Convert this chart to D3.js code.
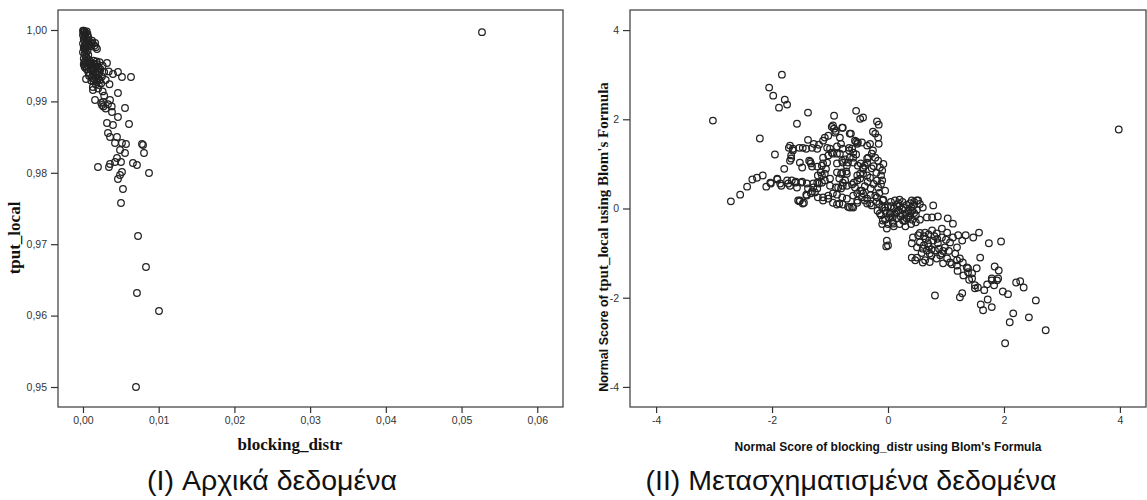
<!DOCTYPE html>
<html>
<head>
<meta charset="utf-8">
<script src="https://cdn.jsdelivr.net/npm/d3@7"></script>
<style>
  body { margin: 0; background: #fff; }
  svg { display: block; }
</style>
</head>
<body>
<svg id="chart"></svg>
<script>
// raw data: blocking_distr vs tput_local
const rawPoints = [
  [0.0000, 0.9999], [0.0001, 0.9996], [0.0000, 0.9993], [0.0002, 0.9990], [0.0001, 0.9987],
  [0.0003, 0.9984], [0.0000, 0.9981], [0.0002, 0.9978], [0.0001, 0.9975], [0.0003, 0.9972],
  [0.0000, 0.9969], [0.0002, 0.9966], [0.0004, 0.9963], [0.0001, 0.9960], [0.0003, 0.9957],
  [0.0002, 0.9998], [0.0003, 0.9994], [0.0004, 0.9989], [0.0004, 0.9980], [0.0005, 0.9976],
  [0.0001, 0.9999], [0.0002, 0.9992],
  [0.0005, 0.9998], [0.0006, 0.9994], [0.0004, 0.9996], [0.0007, 0.9990], [0.0006, 0.9985],
  [0.0005, 0.9982], [0.0007, 0.9978], [0.0003, 0.9975], [0.0006, 0.9971], [0.0004, 0.9968],
  [0.0007, 0.9965], [0.0005, 0.9961], [0.0008, 0.9958], [0.0002, 0.9955], [0.0006, 0.9956],
  [0.0009, 0.9952], [0.0001, 0.9952], [0.0002, 0.9949], [0.0012, 0.9985], [0.0016, 0.9982],
  [0.0017, 0.9976],
  [0.0010, 0.9983], [0.0013, 0.9981], [0.0015, 0.9978], [0.0011, 0.9977], [0.0008, 0.9980],
  [0.0004, 0.9953], [0.0006, 0.9950], [0.0005, 0.9945], [0.0007, 0.9941], [0.0003, 0.9947],
  [0.0008, 0.9936],
  [0.0010, 0.9955], [0.0014, 0.9957], [0.0018, 0.9956], [0.0022, 0.9955], [0.0012, 0.9950],
  [0.0016, 0.9951], [0.0020, 0.9949], [0.0011, 0.9944], [0.0015, 0.9946], [0.0019, 0.9943],
  [0.0023, 0.9945], [0.0013, 0.9939], [0.0017, 0.9940], [0.0021, 0.9938], [0.0012, 0.9933],
  [0.0016, 0.9934], [0.0020, 0.9932], [0.0014, 0.9928], [0.0018, 0.9927], [0.0022, 0.9930],
  [0.0026, 0.9950], [0.0028, 0.9941], [0.0025, 0.9935], [0.0009, 0.9938], [0.0024, 0.9925],
  [0.0011, 0.9953], [0.0015, 0.9953], [0.0019, 0.9952], [0.0013, 0.9947], [0.0017, 0.9948],
  [0.0021, 0.9946], [0.0014, 0.9942], [0.0018, 0.9937], [0.0022, 0.9941], [0.0015, 0.9931],
  [0.0019, 0.9929], [0.0017, 0.9924], [0.0011, 0.9929], [0.0021, 0.9923],
  [0.0013, 0.9920], [0.0020, 0.9918], [0.0026, 0.9914], [0.0030, 0.9930], [0.0034, 0.9942],
  [0.0035, 0.9924], [0.0028, 0.9908], [0.0024, 0.9898], [0.0038, 0.9893], [0.0033, 0.9896],
  [0.0027, 0.9893], [0.0030, 0.9890],
  [0.00185, 0.99734], [0.00053, 0.99818], [0.00317, 0.99538], [0.00462, 0.99412], [0.00515, 0.99342],
  [0.00634, 0.99342], [0.00396, 0.99384], [0.0004, 0.99314], [0.00132, 0.9916], [0.00159, 0.9902],
  [0.00264, 0.98992], [0.00357, 0.9902], [0.00251, 0.9895], [0.00462, 0.99118], [0.00555, 0.98908],
  [0.00383, 0.98852], [0.00462, 0.98782], [0.00317, 0.98698], [0.00396, 0.98669], [0.00608, 0.98683],
  [0.0033, 0.98557], [0.00357, 0.98501], [0.00449, 0.98501], [0.00423, 0.98417], [0.00515, 0.98417],
  [0.00568, 0.98403], [0.00779, 0.98403], [0.00793, 0.98389], [0.00806, 0.98277], [0.00489, 0.98319],
  [0.00555, 0.98277], [0.00449, 0.98207], [0.00423, 0.98151], [0.00502, 0.98151], [0.00198, 0.98081],
  [0.00343, 0.98081], [0.00357, 0.98123], [0.0066, 0.98137], [0.00713, 0.98109], [0.00872, 0.97997],
  [0.00515, 0.98011], [0.00489, 0.97969], [0.00462, 0.97913], [0.00528, 0.97773], [0.00502, 0.97577],
  [0.00727, 0.97115], [0.00832, 0.96681], [0.00713, 0.96317], [0.01004, 0.96064], [0.0070, 0.9500],
  [0.0527, 0.9997]
];

// normal scores (Blom) of the same two variables
const blomPoints = [
  [-3.02, 1.97], [-1.83, 3.00], [-2.05, 2.71], [-1.98, 2.53], [-1.78, 2.44], [-1.74, 2.33],
  [-1.88, 2.26], [-1.38, 2.15], [-1.57, 1.90], [-2.21, 1.57], [-1.95, 1.21], [-1.79, 0.89],
  [-2.71, 0.16], [-2.55, 0.31], [-2.43, 0.49], [-2.34, 0.65], [-2.26, 0.69], [-2.16, 0.74],
  [-2.10, 0.49], [-2.02, 0.56], [-1.84, 0.51], [-1.91, 0.65], [-1.72, 0.56], [-1.66, 0.63],
  [-1.60, 0.58], [-1.50, 0.58], [-1.40, 0.56], [-1.55, 0.18], [-1.45, 0.13], [-1.71, 1.36],
  [-1.69, 1.07], [-1.67, 1.19], [-1.53, 1.36], [-1.64, 1.34], [-1.52, 1.03], [-1.48, 0.92],
  [-1.34, 1.05], [-1.31, 0.94], [-1.38, 1.54], [-1.28, 1.45], [-1.19, 1.43], [-1.22, 1.34],
  [-1.41, 1.34], [-1.12, 1.52], [-1.09, 1.59], [-1.03, 1.63], [-0.97, 1.83], [-0.93, 1.79],
  [-0.91, 1.70], [-0.79, 1.81], [-0.93, 2.08], [-0.83, 1.59], [-0.81, 1.45], [-0.64, 1.68],
  [-0.55, 2.19], [-0.48, 2.01], [-0.43, 2.04], [-0.55, 1.50], [-0.53, 1.45], [-0.62, 1.34],
  [-0.60, 1.25], [-0.55, 1.21], [-0.45, 1.48], [-0.36, 1.41], [-1.05, 1.36], [-1.03, 1.19],
  [-0.97, 1.25], [-0.88, 1.23], [-0.79, 1.07], [-0.74, 1.10], [-0.69, 1.03], [-0.60, 1.14],
  [-1.22, 0.94], [-1.12, 1.01], [-1.16, 0.81], [-1.21, 0.74], [-1.09, 0.78], [-1.14, 0.58],
  [-1.22, 0.58], [-0.88, 0.81], [-0.81, 0.78], [-0.72, 0.83], [-0.84, 0.67], [-0.78, 0.58],
  [-1.00, 0.51], [-0.90, 0.47], [-0.81, 0.45], [-0.71, 0.51], [-0.62, 0.54], [-0.59, 0.58],
  [-0.53, 0.63], [-0.48, 0.78], [-0.43, 0.89], [-0.40, 0.96], [-0.47, 1.01], [-0.36, 1.12],
  [-1.26, 0.36], [-1.33, 0.34], [-1.41, 0.31], [-1.21, 0.25], [-1.12, 0.25], [-1.03, 0.29],
  [-0.95, 0.34], [-0.88, 0.31], [-0.79, 0.25], [-0.71, 0.22], [-0.60, 0.29], [-0.53, 0.34],
  [-0.45, 0.25], [-0.40, 0.18], [-0.95, 0.13], [-0.88, 0.09], [-0.78, 0.09], [-0.66, 0.02],
  [-0.60, 0.02], [-0.53, 0.13], [-1.12, 0.18], [-1.29, 0.47], [-1.22, 0.45],
  [-0.19, 1.95], [-0.16, 1.88], [-0.95, 1.86], [-0.90, 1.74], [-0.78, 1.81], [-0.26, 1.72],
  [-0.22, 1.68], [-0.17, 1.59], [-0.16, 1.45], [-0.31, 1.45], [-0.26, 1.30], [-0.22, 1.14],
  [-0.17, 1.07], [-0.14, 0.92], [-0.12, 0.74], [-0.19, 0.63], [-0.10, 0.63], [-0.17, 0.47],
  [-0.22, 0.29], [-0.31, 0.11], [-0.19, 0.25], [-0.09, 0.18], [-0.05, 0.02], [-0.66, 1.68],
  [-0.57, 1.52], [-0.52, 1.48], [-0.67, 1.36], [-0.67, 1.30], [-0.66, 1.14], [-0.60, 1.03],
  [-0.52, 0.96], [-0.43, 0.92], [-0.36, 1.03], [-0.34, 1.14], [-0.28, 1.23], [-0.43, 0.78],
  [-0.36, 0.74], [-0.31, 0.69], [-0.48, 0.67], [-0.53, 0.74], [-0.57, 0.47], [-0.48, 0.40],
  [-0.43, 0.34], [-0.36, 0.22], [-0.53, 0.18], [-0.62, 0.04], [-0.69, 0.04], [-0.84, 0.11],
  [-1.03, 0.22], [-1.40, 0.29], [-1.52, 0.18], [-1.47, 0.11], [-0.78, 0.51], [-0.86, 0.47],
  [-0.74, 0.63], [-0.71, 0.78], [-0.79, 0.81], [-1.00, 0.67], [-1.09, 0.63], [-1.14, 0.74],
  [-1.07, 0.89], [-1.14, 0.96], [-1.05, 1.03], [-1.12, 1.14], [-0.78, 1.03], [-0.71, 0.96],
  [-0.88, 1.01], [-0.95, 1.23], [-0.83, 1.23], [-0.78, 1.34], [-0.88, 1.39], [-1.00, 1.34],
  [-1.31, 1.36], [-1.47, 1.36], [-1.64, 1.30], [-1.69, 1.41], [-1.67, 1.12], [-1.36, 1.07],
  [-1.33, 1.01], [-1.91, 0.67], [-2.03, 0.58], [-1.86, 0.56], [-1.74, 0.63], [-1.59, 0.60],
  [-1.48, 0.60], [-1.29, 0.56], [-1.19, 0.56], [-1.31, 0.38], [-1.38, 0.45], [-1.57, 0.47],
  [-1.69, 0.51], [-1.53, 0.16],
  [-0.30, 0.45], [-0.25, 0.55], [-0.35, 0.60], [-0.20, 0.80], [-0.28, 0.90], [-0.40, 0.50],
  [-0.15, 0.35], [-0.45, 0.40], [-0.05, 0.40], [-0.12, 0.55], [-0.30, 0.30], [-0.25, 0.95],
  [-0.08, 1.00], [-0.10, 0.85],
  [-0.15, 0.10], [-0.10, 0.02], [-0.05, -0.05], [0.00, 0.05], [0.05, -0.10], [0.10, 0.00],
  [0.15, -0.08], [0.20, 0.05], [0.25, -0.02], [0.30, -0.12], [0.35, -0.05], [0.40, 0.02],
  [0.45, -0.10], [0.50, -0.03], [0.55, 0.10], [-0.12, -0.15], [-0.05, -0.25], [0.02, -0.20],
  [0.08, -0.30], [0.15, -0.22], [0.22, -0.18], [0.28, -0.28], [0.35, -0.20], [0.42, -0.25],
  [0.48, -0.15], [0.05, 0.15], [0.12, 0.18], [0.18, 0.12], [0.25, 0.15], [0.32, 0.08],
  [0.38, 0.12], [0.45, 0.08], [-0.08, 0.20], [0.00, -0.35], [0.10, -0.40], [-0.02, -0.45],
  [0.20, -0.35], [0.30, -0.40], [0.40, -0.35], [0.55, -0.25], [0.60, 0.02], [-0.18, -0.05],
  [-0.20, 0.15], [0.03, -0.12], [0.18, -0.05], [0.27, 0.02], [-0.10, -0.35], [0.12, -0.12],
  [0.38, -0.10], [0.50, 0.18], [0.45, 0.15],
  [0.05, 0.05], [0.15, 0.08], [0.22, -0.10], [-0.02, -0.10], [0.32, -0.22], [0.08, -0.20],
  [0.42, -0.05], [0.20, 0.20],
  [0.78, 0.07], [0.52, 0.18], [0.41, 0.18], [0.48, -0.31], [0.67, -0.20], [0.76, -0.20],
  [0.86, -0.18], [1.03, -0.22], [1.12, -0.34], [0.93, -0.45], [-0.02, -0.72], [0.00, -0.83],
  [-0.03, -0.85], [1.21, -0.60], [1.34, -0.60], [1.47, -0.65], [1.57, -0.54], [1.74, -0.78],
  [1.95, -0.74], [1.59, -1.10], [1.84, -1.30], [1.91, -1.39], [0.41, -1.10], [0.60, -1.21],
  [1.19, -1.16], [1.38, -1.34], [1.53, -1.34], [1.79, -1.57], [1.90, -1.57], [0.81, -1.95],
  [1.24, -1.99], [1.28, -1.90], [1.50, -1.79], [1.55, -1.77], [1.66, -1.83], [1.71, -1.70],
  [1.79, -1.61], [1.88, -1.61], [1.83, -1.72], [1.98, -1.86], [2.07, -1.92], [2.21, -1.66],
  [2.28, -1.63], [2.34, -1.77], [2.55, -2.06], [1.60, -2.15], [1.64, -2.28], [1.72, -2.04],
  [1.79, -2.21], [2.16, -2.35], [2.10, -2.55], [2.43, -2.44], [2.72, -2.73], [2.02, -3.02],
  [1.45, -1.57], [1.50, -1.72], [1.38, -1.43], [1.36, -1.32], [1.29, -1.21], [1.19, -1.28],
  [1.07, -1.21], [1.16, -1.01], [1.24, -1.12], [1.02, -1.12], [0.95, -1.23], [0.93, -1.01],
  [0.84, -1.12], [0.81, -0.94], [0.72, -1.01], [0.67, -0.94], [0.64, -1.16], [0.50, -1.10],
  [0.47, -1.16], [0.50, -0.87], [0.55, -0.76], [0.41, -0.78], [0.43, -0.65], [0.52, -0.60],
  [0.64, -0.54], [0.76, -0.49], [0.84, -0.56], [0.93, -0.65], [1.02, -0.54], [1.07, -0.76],
  [0.98, -0.87], [0.86, -0.78], [0.78, -0.72], [0.69, -0.78], [1.19, -0.87], [1.12, -0.65],
  [1.28, -0.72], [-0.14, -0.11], [-0.09, -0.27], [0.09, -0.34], [0.26, -0.27], [0.38, -0.16],
  [-0.36, 0.11], [-0.28, 0.07],
  [0.60, -0.90], [0.70, -0.85], [0.75, -1.05], [0.90, -1.05], [0.95, -0.95], [1.05, -0.95],
  [0.85, -0.68], [0.65, -0.68], [0.58, -1.00], [0.72, -1.20], [1.10, -1.25], [1.30, -1.50],
  [1.40, -1.60], [1.20, -1.40], [1.45, -1.45],
  [0.55, -0.55], [0.62, -0.62], [0.70, -0.58], [0.80, -0.62], [0.62, -0.82], [0.75, -0.92],
  [0.88, -0.90], [1.00, -0.70],
  [3.98, 1.77]
];

const rawXTicks = [0, 0.01, 0.02, 0.03, 0.04, 0.05, 0.06];
const rawYTicks = [0.95, 0.96, 0.97, 0.98, 0.99, 1.0];
const blomTicks = [-4, -2, 0, 2, 4];

const captions = ["(I) Αρχικά δεδομένα", "(II) Μετασχηματισμένα δεδομένα"];

const SANS = "'Liberation Sans', Arial, sans-serif";
const SERIF = "'Liberation Serif', 'Times New Roman', serif";

class ScatterPlot {
  constructor(_config, _data) {
    this.config = {
      svg: _config.svg,
      left: _config.left,
      top: _config.top,
      width: _config.width,
      height: _config.height,
      xDomain: _config.xDomain,
      yDomain: _config.yDomain,
      xTicks: _config.xTicks,
      yTicks: _config.yTicks,
      format: _config.format,
    };
    this.data = _data;
    this.initVis();
  }

  initVis() {
    let vis = this;
    let c = vis.config;

    vis.xScale = d3.scaleLinear().domain(c.xDomain).range([0, c.width]);
    vis.yScale = d3.scaleLinear().domain(c.yDomain).range([c.height, 0]);

    vis.chartArea = c.svg
      .append("g")
      .attr("transform", `translate(${c.left},${c.top})`);

    // plot frame
    vis.chartArea
      .append("rect")
      .attr("width", c.width)
      .attr("height", c.height)
      .attr("fill", "none")
      .attr("stroke", "#3a3a3a")
      .attr("stroke-width", 1.2);

    vis.xAxis = d3
      .axisBottom(vis.xScale)
      .tickValues(c.xTicks)
      .tickFormat(c.format)
      .tickSizeInner(6)
      .tickSizeOuter(0)
      .tickPadding(4);
    vis.yAxis = d3
      .axisLeft(vis.yScale)
      .tickValues(c.yTicks)
      .tickFormat(c.format)
      .tickSizeInner(7)
      .tickSizeOuter(0)
      .tickPadding(4);

    vis.xAxisGroup = vis.chartArea
      .append("g")
      .attr("transform", `translate(0,${c.height})`)
      .call(vis.xAxis);
    vis.yAxisGroup = vis.chartArea.append("g").call(vis.yAxis);

    [vis.xAxisGroup, vis.yAxisGroup].forEach((g) => {
      g.select(".domain").remove();
      g.selectAll(".tick line").attr("stroke", "#333").attr("stroke-width", 1.2);
      g.selectAll(".tick text")
        .attr("fill", "#333")
        .style("font-family", SANS)
        .style("font-size", "10.5px");
    });

    vis.renderVis();
  }

  renderVis() {
    let vis = this;
    vis.chartArea
      .selectAll(".point")
      .data(vis.data)
      .join("circle")
      .attr("class", "point")
      .attr("r", 3.3)
      .attr("cx", (d) => vis.xScale(d[0]))
      .attr("cy", (d) => vis.yScale(d[1]))
      .attr("fill", "none")
      .attr("stroke", "#222")
      .attr("stroke-width", 1.25);
  }
}

const svg = d3.select("#chart").attr("width", 1147).attr("height", 500);
svg.append("rect").attr("width", 1147).attr("height", 500).attr("fill", "#fff");

const commaFormat = (d) => d3.format(".2f")(d).replace(".", ",");
const intFormat = (d) => d3.format("d")(d).replace("−", "-");

const rawPlot = new ScatterPlot(
  {
    svg: svg,
    left: 58,
    top: 10,
    width: 505,
    height: 397,
    xDomain: [-0.0033, 0.0634],
    yDomain: [0.9472, 1.0028],
    xTicks: rawXTicks,
    yTicks: rawYTicks,
    format: commaFormat,
  },
  rawPoints
);

const blomPlot = new ScatterPlot(
  {
    svg: svg,
    left: 630,
    top: 10,
    width: 516,
    height: 397,
    xDomain: [-4.45, 4.45],
    yDomain: [-4.45, 4.45],
    xTicks: blomTicks,
    yTicks: blomTicks,
    format: intFormat,
  },
  blomPoints
);

// axis titles
svg.append("text")
  .attr("x", 290).attr("y", 450)
  .attr("text-anchor", "middle")
  .style("font-family", SERIF).style("font-weight", "bold").style("font-size", "17px")
  .attr("fill", "#111")
  .text("blocking_distr");

svg.append("text")
  .attr("transform", "translate(20,238) rotate(-90)")
  .attr("text-anchor", "middle")
  .style("font-family", SERIF).style("font-weight", "bold").style("font-size", "17px")
  .attr("fill", "#111")
  .text("tput_local");

svg.append("text")
  .attr("x", 888).attr("y", 451)
  .attr("text-anchor", "middle")
  .style("font-family", SANS).style("font-weight", "bold").style("font-size", "12px")
  .attr("fill", "#111")
  .text("Normal Score of blocking_distr using Blom's Formula");

const yTitle = svg.append("text")
  .attr("transform", "translate(608,237) rotate(-90)")
  .attr("text-anchor", "middle")
  .style("font-weight", "bold")
  .attr("fill", "#111");
yTitle.append("tspan")
  .style("font-family", SANS).style("font-size", "12.5px")
  .text("Normal Score of ");
yTitle.append("tspan")
  .style("font-family", SERIF).style("font-size", "15px")
  .text("tput_local using Blom's Formula");

// captions under each panel
svg.selectAll(".caption")
  .data(captions)
  .join("text")
  .attr("class", "caption")
  .attr("x", (d, i) => [272, 851][i])
  .attr("y", 490)
  .attr("text-anchor", "middle")
  .style("font-family", SANS)
  .style("font-size", "28.5px")
  .attr("fill", "#111")
  .text((d) => d);
</script>
</body>
</html>
